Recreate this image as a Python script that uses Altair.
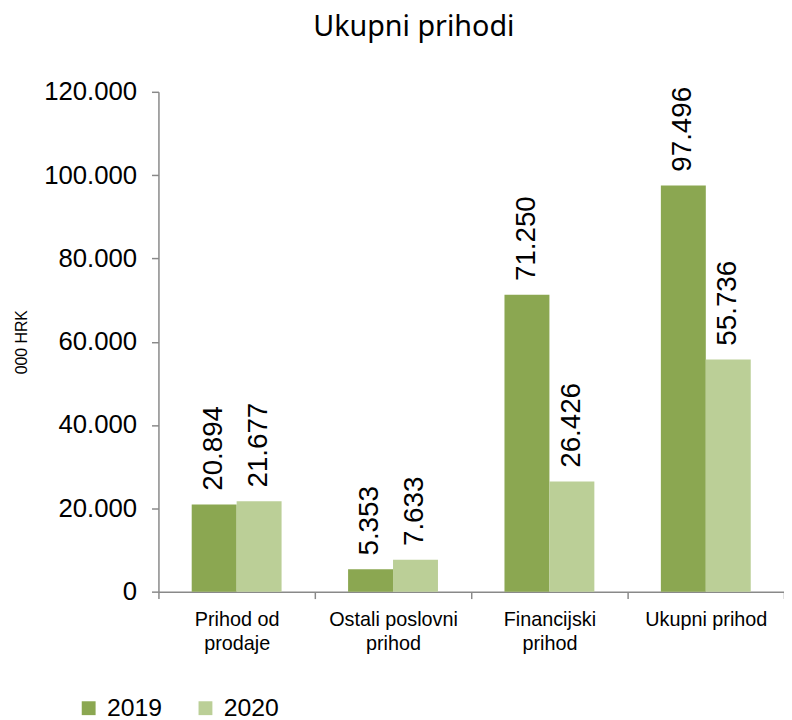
import altair as alt
import pandas as pd

categories = ["Prihod od prodaje", "Ostali poslovni prihod", "Financijski prihod", "Ukupni prihod"]
values_2019 = [20894, 5353, 71250, 97496]
values_2020 = [21677, 7633, 26426, 55736]
years = ["2019", "2020"]
colors = ["#8BA751", "#BBCF97"]
y_ticks = [0, 20000, 40000, 60000, 80000, 100000, 120000]

rows = []
for c, a, b in zip(categories, values_2019, values_2020):
    rows.append({"kategorija": c, "godina": years[0], "vrijednost": a})
    rows.append({"kategorija": c, "godina": years[1], "vrijednost": b})
df = pd.DataFrame(rows)
df["oznaka"] = df["vrijednost"].map(lambda v: f"{v:,}".replace(",", "."))

label_expr = (
    "datum.label == 'Prihod od prodaje' ? ['Prihod od', 'prodaje'] : "
    "datum.label == 'Ostali poslovni prihod' ? ['Ostali poslovni', 'prihod'] : "
    "datum.label == 'Financijski prihod' ? ['Financijski', 'prihod'] : datum.label"
)

x = alt.X(
    "kategorija:N",
    sort=categories,
    title=None,
    scale=alt.Scale(paddingInner=0, paddingOuter=0),
    axis=alt.Axis(
        labelExpr=label_expr,
        labelAngle=0,
        tickBand="extent",
        tickSize=7,
        labelFontSize=20,
        labelPadding=11,
        labelLineHeight=24,
        labelColor="black",
        labelFont="Liberation Sans",
        labelLimit=300,
        domainColor="#898989",
        tickColor="#898989",
        domainWidth=1.5,
        tickWidth=1.5,
    ),
)
y = alt.Y(
    "vrijednost:Q",
    scale=alt.Scale(domain=[0, 120000], nice=False),
    axis=alt.Axis(
        values=y_ticks,
        labelExpr="replace(format(datum.value, ','), ',', '.')",
        title="000 HRK",
        titleFontSize=16,
        titleFontWeight="normal",
        titleFont="Liberation Sans",
        titleColor="black",
        titlePadding=14,
        labelFontSize=26,
        labelFont="Liberation Sans",
        labelColor="black",
        labelPadding=15,
        tickSize=7,
        grid=False,
        domainColor="#898989",
        tickColor="#898989",
        domainWidth=1.5,
        tickWidth=1.5,
    ),
)
xoff = alt.XOffset("godina:N", sort=years, scale=alt.Scale(paddingInner=0, paddingOuter=0.74))

bars = alt.Chart(df).mark_bar().encode(
    x=x,
    y=y,
    xOffset=xoff,
    color=alt.Color(
        "godina:N",
        scale=alt.Scale(domain=years, range=colors),
        legend=alt.Legend(
            title=None,
            orient="none",
            legendX=-83,
            legendY=610,
            direction="horizontal",
            symbolType="square",
            symbolSize=196,
            symbolStrokeWidth=0,
            symbolOpacity=1,
            labelFontSize=25,
            labelFont="Liberation Sans",
            labelColor="black",
            columnPadding=31,
            labelOffset=6,
        ),
    ),
)

text = alt.Chart(df).mark_text(
    angle=270, align="left", baseline="middle", dx=14, fontSize=28,
    font="Liberation Sans", color="black"
).encode(x=x, y=y, xOffset=xoff, text="oznaka:N")

chart = alt.layer(bars, text).properties(
    width=632,
    height=505,
    autosize=alt.AutoSizeParams(type="none"),
    padding={"left": 152, "top": 81, "right": 0, "bottom": 126},
    title=alt.Title(
        "Ukupni prihodi", fontSize=29, font="Noto Sans", fontWeight="normal",
        color="black", anchor="middle", dx=-58, offset=37
    ),
).configure_view(stroke=None)

chart.save("out.html", embed_options={"renderer": "svg", "actions": False})
